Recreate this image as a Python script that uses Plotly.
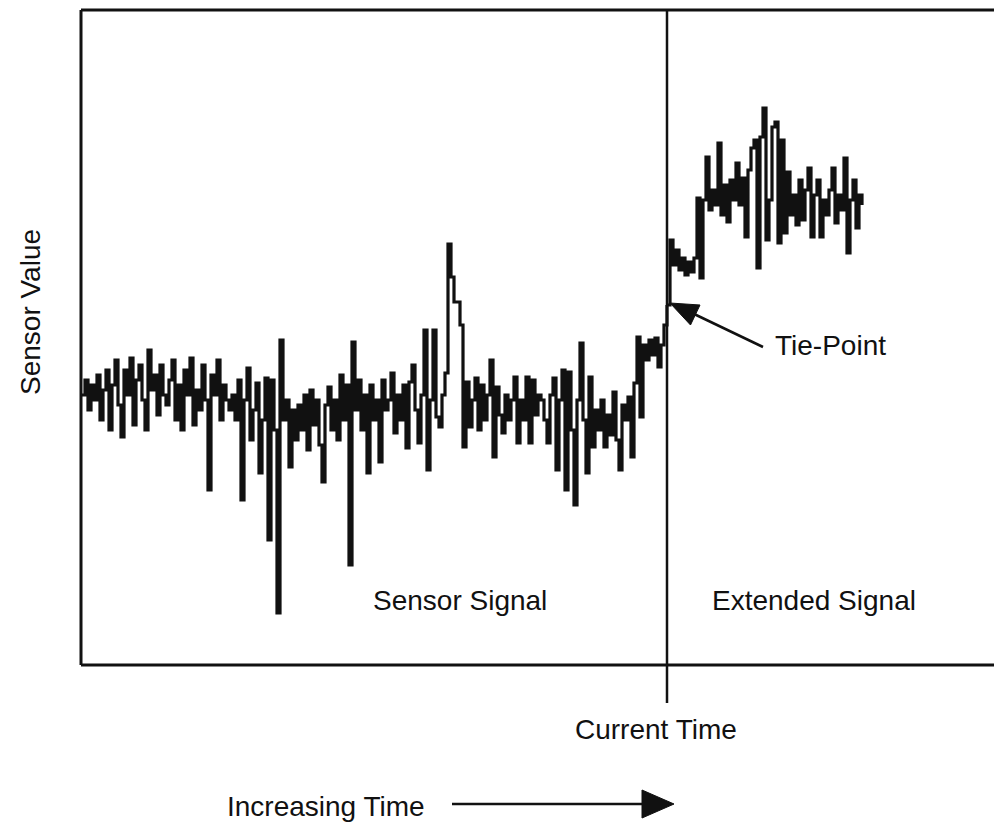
import plotly.graph_objects as go

# Recorded sensor samples (arbitrary units), one sample per time step.
# The last sample is the tie-point where the extension begins.
sensor_signal = [
    270, 285, 255, 280, 265, 290, 245, 275, 295, 235, 280, 305, 260, 228, 295, 270, 307, 240, 285, 300,
    265, 235, 315, 275, 290, 250, 300, 270, 260, 285, 305, 245, 280, 235, 295, 270, 307, 240, 275, 255,
    300, 265, 175, 290, 270, 305, 245, 280, 265, 255,
    270, 245, 285, 165, 265, 297, 225, 255, 282, 192, 245, 287, 125, 285, 235, 52, 325, 245, 265, 198,
    255, 225, 260, 235, 270, 215, 275, 240, 265, 220, 183, 260, 278, 235, 265, 225, 290, 245, 280, 100,
    323, 255, 285, 235, 270, 192, 280, 245, 265, 203, 285, 255,
    265, 292, 232, 270, 245, 280, 217, 283, 300, 255, 222, 270, 335, 195, 265, 335, 248, 238, 270, 292,
    421, 388, 363, 363, 340, 218, 283, 238, 265, 287, 235, 280, 245, 270, 305, 208, 278, 250, 232, 270,
    245, 265, 288, 222, 265, 245, 288, 222, 285, 250, 270,
    265, 245, 222, 270, 287, 195, 265, 295, 175, 293, 235, 160, 265, 322, 245, 192, 288, 218, 255, 235,
    265, 218, 250, 230, 273, 225, 195, 260, 245, 268, 208, 282, 328, 248, 320, 305, 325, 310, 327, 298,
    320, 340,
    360,
]

# Projected continuation, starting from the tie-point.
extended_signal = [
    360, 425, 400, 415, 395, 407, 390, 403, 393, 407, 467, 387, 465, 508, 455, 475, 460, 522, 450, 480,
    443, 485, 465, 502, 460, 487, 428, 495, 517, 525, 397, 528, 557, 425, 465, 538, 543, 422, 525, 432,
    493, 450, 470, 440, 485, 445, 475, 497, 428, 470, 485, 428, 465, 450, 475, 497, 442, 470, 455, 507,
    412, 465, 485, 437, 470, 460,
]

value_axis_title = "Sensor Value"
time_axis_title = "Increasing Time"
current_time_label = "Current Time"
tie_point_label = "Tie-Point"
region_labels = ["Sensor Signal", "Extended Signal"]

tie_index = len(sensor_signal) - 1
sensor_t = list(range(len(sensor_signal)))
extended_t = list(range(tie_index, tie_index + len(extended_signal)))

# Canvas geometry (pixels) and axis extents
W, H = 994, 824
L, T, B = 81, 10, 665
X_MIN, X_MAX = -1 / 3, 304
Y_MIN, Y_MAX = 0, 655
INK = "#111111"
FONT = "Liberation Sans, Arial, Helvetica, sans-serif"


def px(xpix):
    return (xpix - L) / (W - L)


def py(ypix):
    return (B - ypix) / (B - T)


fig = go.Figure()
fig.add_trace(go.Scatter(x=sensor_t, y=sensor_signal, mode="lines", line_shape="hv",
                         line=dict(color=INK, width=3.2), hoverinfo="skip"))
fig.add_trace(go.Scatter(x=extended_t, y=extended_signal, mode="lines", line_shape="hv",
                         line=dict(color=INK, width=3.2), hoverinfo="skip"))

x_now = (tie_index - X_MIN) / (X_MAX - X_MIN)

shapes = [
    # frame: left, top, bottom (open to the right)
    dict(type="line", xref="paper", yref="paper", x0=0, x1=0, y0=0, y1=1, line=dict(color=INK, width=3)),
    dict(type="line", xref="paper", yref="paper", x0=0, x1=1, y0=1, y1=1, line=dict(color=INK, width=3)),
    dict(type="line", xref="paper", yref="paper", x0=0, x1=1, y0=0, y1=0, line=dict(color=INK, width=3)),
    # current time marker
    dict(type="line", xref="paper", yref="paper", x0=x_now, x1=x_now, y0=py(703), y1=1,
         line=dict(color=INK, width=2.5)),
    # tie-point pointer
    dict(type="line", xref="paper", yref="paper", x0=px(763), y0=py(347), x1=px(692), y1=py(313),
         line=dict(color=INK, width=2.5)),
    dict(type="path", xref="paper", yref="paper",
         path=f"M {px(670)},{py(303)} L {px(700)},{py(305)} L {px(690.5)},{py(325)} Z",
         fillcolor=INK, line=dict(color=INK, width=1)),
    # increasing-time arrow
    dict(type="line", xref="paper", yref="paper", x0=px(452), y0=py(804), x1=px(648), y1=py(804),
         line=dict(color=INK, width=2.5)),
    dict(type="path", xref="paper", yref="paper",
         path=f"M {px(674)},{py(804)} L {px(642)},{py(790)} L {px(642)},{py(818)} Z",
         fillcolor=INK, line=dict(color=INK, width=1)),
]

label_font = dict(family=FONT, size=28, color=INK)


def label(text, xpix, ypix, angle=0):
    return dict(text=text, xref="paper", yref="paper", x=px(xpix), y=py(ypix),
                xanchor="center", yanchor="middle", showarrow=False, textangle=angle,
                font=label_font)


annotations = [
    label(value_axis_title, 30, 312, -90),
    label(region_labels[0], 460, 600),
    label(region_labels[1], 814, 600),
    label(tie_point_label, 830, 345),
    label(current_time_label, 656, 729),
    label(time_axis_title, 326, 806),
]

fig.update_layout(
    width=W, height=H,
    margin=dict(l=L, r=0, t=T, b=H - B, pad=0),
    paper_bgcolor="white", plot_bgcolor="white",
    showlegend=False,
    xaxis=dict(range=[X_MIN, X_MAX], visible=False, fixedrange=True),
    yaxis=dict(range=[Y_MIN, Y_MAX], visible=False, fixedrange=True),
    shapes=shapes,
    annotations=annotations,
)

fig.write_html("out.html")
